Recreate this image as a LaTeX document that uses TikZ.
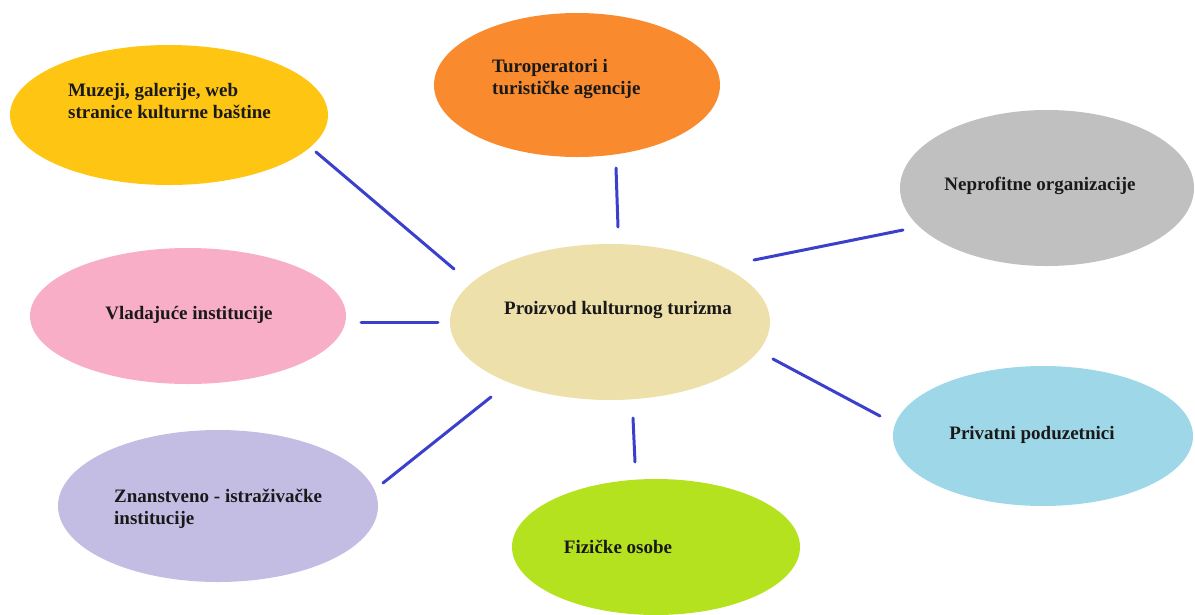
\documentclass[tikz,border=0pt]{standalone}
\usepackage{fontspec}
\setmainfont{Liberation Serif}
\usetikzlibrary{shapes.geometric}
\definecolor{cgold}{RGB}{254,197,18}
\definecolor{corange}{RGB}{249,138,46}
\definecolor{cgray}{RGB}{192,192,192}
\definecolor{cpink}{RGB}{249,174,200}
\definecolor{cbeige}{RGB}{237,224,170}
\definecolor{cblue}{RGB}{158,216,232}
\definecolor{clav}{RGB}{195,189,227}
\definecolor{clime}{RGB}{181,226,30}
\definecolor{cline}{RGB}{58,63,204}
\tikzset{
  blob/.style={ellipse, draw=none, inner sep=0pt},
  lbl/.style={font=\fontsize{19pt}{22pt}\selectfont\bfseries, text=black!90, inner sep=0pt, align=left},
  link/.style={draw=cline, line width=3pt, line cap=round}
}
\begin{document}
\begin{tikzpicture}[x=1pt,y=-1pt]
\useasboundingbox (0,0) rectangle (1195,614);
% ellipses
\node[blob, fill=cgold, minimum width=318pt, minimum height=140pt] (muz) at (169,115) {};
\node[blob, fill=corange, minimum width=286pt, minimum height=144pt] (tur) at (577,85) {};
\node[blob, fill=cgray, minimum width=294pt, minimum height=156pt] (nep) at (1047,188) {};
\node[blob, fill=cpink, minimum width=316pt, minimum height=136pt] (vla) at (188,316) {};
\node[blob, fill=cbeige, minimum width=320pt, minimum height=156pt] (pro) at (610,322) {};
\node[blob, fill=cblue, minimum width=300pt, minimum height=140pt] (pri) at (1043,436) {};
\node[blob, fill=clav, minimum width=320pt, minimum height=152pt] (zna) at (218,506) {};
\node[blob, fill=clime, minimum width=288pt, minimum height=136pt] (fiz) at (656,547) {};
% labels
\node[lbl, anchor=west] (tmuz) at (68,101) {Muzeji, galerije, web\\stranice kulturne baštine};
\node[lbl, anchor=west] (ttur) at (492,79) {Turoperatori i\\turističke agencije};
\node[lbl] (tnep) at (1040,186) {Neprofitne organizacije};
\node[lbl] (tvla) at (189,315) {Vladajuće institucije};
\node[lbl] (tpro) at (618,310) {Proizvod kulturnog turizma};
\node[lbl] (tpri) at (1032,435) {Privatni poduzetnici};
\node[lbl, anchor=west] (tzna) at (114,509) {Znanstveno - istraživačke\\institucije};
\node[lbl] (tfiz) at (618,547) {Fizičke osobe};
% connector end points
\coordinate (a1) at (316,152); \coordinate (a2) at (454,269);
\coordinate (b1) at (616,168); \coordinate (b2) at (618,227);
\coordinate (c1) at (754,260); \coordinate (c2) at (903,230);
\coordinate (d1) at (361,322); \coordinate (d2) at (438,322);
\coordinate (e1) at (773,359); \coordinate (e2) at (880,416);
\coordinate (f1) at (633,418); \coordinate (f2) at (635,462);
\coordinate (g1) at (383,483); \coordinate (g2) at (491,397);
\draw[link] (a1) -- (a2);
\draw[link] (b1) -- (b2);
\draw[link] (c1) -- (c2);
\draw[link] (d1) -- (d2);
\draw[link] (e1) -- (e2);
\draw[link] (f1) -- (f2);
\draw[link] (g1) -- (g2);
\end{tikzpicture}
\end{document}
